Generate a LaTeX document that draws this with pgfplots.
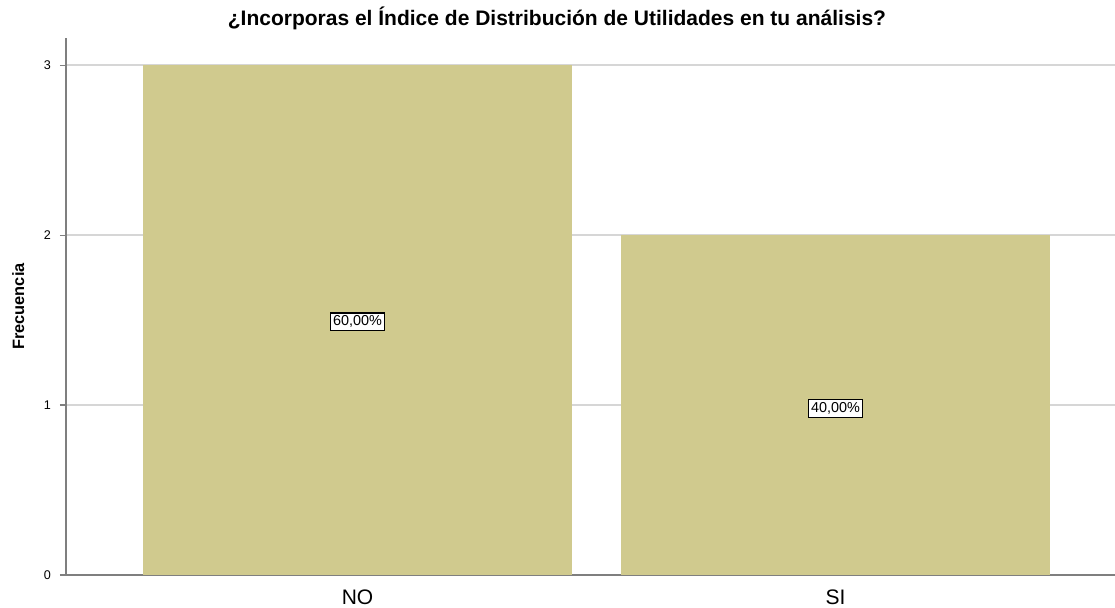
\documentclass[border=0pt]{standalone}
\usepackage{pgfplots}
\pgfplotsset{compat=1.18}
\usepackage{fontspec}
\setmainfont{Liberation Sans}
\definecolor{barc}{HTML}{D0CA8E}
\definecolor{gridc}{HTML}{D6D6D6}
\definecolor{axc}{HTML}{7F7F7F}
\begin{document}
\begin{tikzpicture}
\begin{axis}[name=ax,
  scale only axis, width=524.5pt, height=268.5pt,
  xmin=-0.61, xmax=1.585, ymin=0, ymax=3.16,
  axis x line*=bottom, axis y line*=left,
  axis line style={axc, line width=0.8pt},
  x axis line style={-}, y axis line style={-},
  xtick={0,1}, xticklabels={NO,SI},
  ytick={0,1,2,3},
  ymajorgrids, grid style={gridc, line width=1pt},
  major tick length=3pt,
  xtick style={draw=none},
  ytick style={axc, line width=0.6pt},
  tick align=outside,
  /pgf/number format/assume math mode=true,
  yticklabel style={font=\fontsize{6.3pt}{7pt}\selectfont, xshift=-1pt},
  xticklabel style={font=\fontsize{10.5pt}{11pt}\selectfont, yshift=-1pt},
  ylabel={\textbf{Frecuencia}}, ylabel style={font=\fontsize{8.2pt}{9pt}\selectfont, yshift=3pt},
  title={\textbf{¿Incorporas el Índice de Distribución de Utilidades en tu análisis?}},
  title style={font=\fontsize{10.5pt}{11pt}\selectfont, at={(axis description cs:0.468,1)}, anchor=base, yshift=0pt},
  ybar, bar width=214.5pt, bar shift=0pt,
  clip=false,
]
\addplot[fill=barc, draw=none] coordinates {(0,3)};
\addplot[fill=barc, draw=none] coordinates {(1,2)};
\node[font=\fontsize{7.2pt}{8pt}\selectfont, draw=black, line width=0.6pt, fill=white, inner sep=1.4pt] at (axis cs:0,1.49) {60,00\%};
\node[font=\fontsize{7.2pt}{8pt}\selectfont, draw=black, line width=0.6pt, fill=white, inner sep=1.4pt] at (axis cs:1,0.98) {40,00\%};
\end{axis}
\pgfresetboundingbox
\path (ax.south west) ++(-33pt,-16pt) rectangle ++(557.5pt,303.5pt);
\end{tikzpicture}
\end{document}
